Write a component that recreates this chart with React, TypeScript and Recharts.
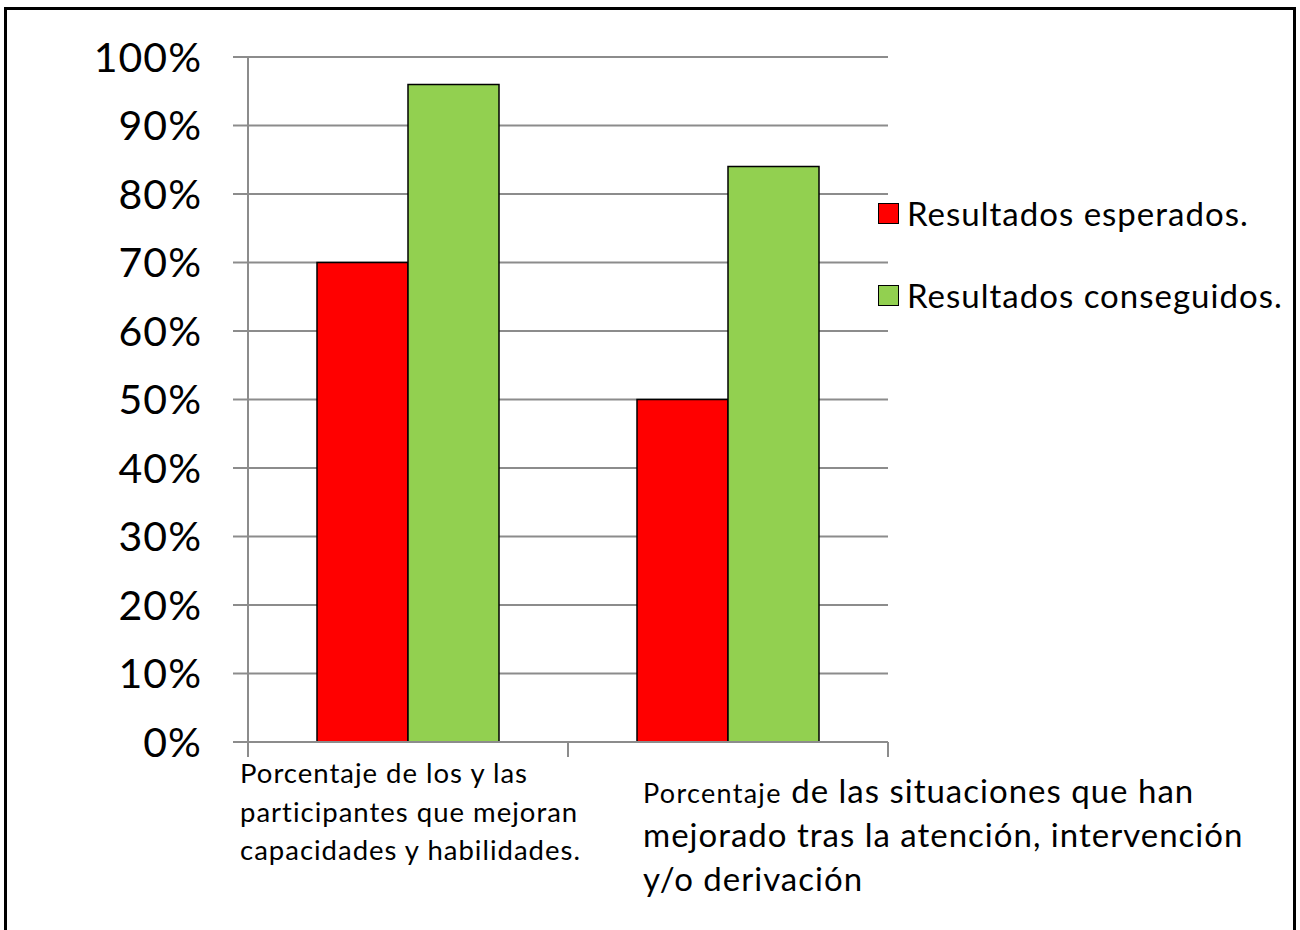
import React from "react";
import {
  BarChart,
  Bar,
  XAxis,
  YAxis,
  CartesianGrid,
  Legend,
} from "recharts";

// categories (full names) and the wrapped tick label lines
const categories = [
  "Porcentaje de los y las participantes que mejoran capacidades y habilidades.",
  "Porcentaje de las situaciones que han mejorado tras la atención, intervención y/o derivación",
];
const tickLines = [
  ["Porcentaje de los y las", "participantes que mejoran", "capacidades y habilidades."],
  ["Porcentaje de las situaciones que han", "mejorado tras la atención, intervención", "y/o derivación"],
];

// series values (fractions)
const esperados = [0.7, 0.5];
const conseguidos = [0.96, 0.84];

const seriesNames = ["Resultados esperados.", "Resultados conseguidos."];
const yTicks = [0, 0.1, 0.2, 0.3, 0.4, 0.5, 0.6, 0.7, 0.8, 0.9, 1];

const data = categories.map((name, i) => ({
  name,
  esperados: esperados[i],
  conseguidos: conseguidos[i],
}));

const FONT = "Lato, 'Open Sans', sans-serif";
const GRID = "#8c8c8c";

// per-category label styling (left offset from band centre, font size, line gap)
const labelStyle = [
  { dx: -168, firstBaseline: 41, size: 27.5, ls: 1, lineGap: 38.5, leadSize: 27.5, leadLs: 1 },
  { dx: -85, firstBaseline: 61, size: 33, ls: 1, lineGap: 44, leadSize: 27, leadLs: 1.3 },
];

function CategoryTick(props: any) {
  const { x, y, payload, index } = props;
  const half = payload.offset ?? 160;
  const lines = tickLines[index] || [];
  const st = labelStyle[index];
  const [lead, ...rest] = lines[0].split(" ");
  return (
    <g>
      <line x1={x - half} x2={x - half} y1={y} y2={y + 15} stroke={GRID} strokeWidth={2} />
      {index === categories.length - 1 && (
        <line x1={x + half} x2={x + half} y1={y} y2={y + 15} stroke={GRID} strokeWidth={2} />
      )}
      <text
        x={x + st.dx}
        y={y + st.firstBaseline}
        fill="#000"
        fontFamily={FONT}
        fontSize={st.size}
        letterSpacing={st.ls}
      >
        <tspan fontSize={st.leadSize} letterSpacing={st.leadLs}>{lead}</tspan>
        <tspan> {rest.join(" ")}</tspan>
        {lines.slice(1).map((l, i) => (
          <tspan key={i} x={x + st.dx} dy={st.lineGap}>
            {l}
          </tspan>
        ))}
      </text>
    </g>
  );
}

function LegendBox(props: any) {
  const items = [...(props.payload || [])].sort(
    (a: any, b: any) => seriesNames.indexOf(a.value) - seriesNames.indexOf(b.value)
  );
  return (
    <div style={{ fontFamily: FONT, fontSize: 33, letterSpacing: 1, color: "#000" }}>
      {items.map((it: any, i: number) => (
        <div
          key={i}
          style={{ display: "flex", alignItems: "center", height: 40, marginBottom: i === 0 ? 42 : 0 }}
        >
          <span
            style={{
              display: "inline-block",
              width: 19,
              height: 19,
              background: it.color,
              border: "1.5px solid #000",
              marginRight: 8,
            }}
          />
          <span style={{ whiteSpace: "nowrap" }}>{it.value}</span>
        </div>
      ))}
    </div>
  );
}

export default function App() {
  return (
    <div
      style={{
        position: "absolute",
        left: 0,
        top: 0,
        width: 1300,
        height: 930,
        overflow: "hidden",
        background: "#fff",
      }}
    >
      <div
        style={{
          position: "absolute",
          left: 4,
          top: 7,
          width: 1292,
          height: 960,
          border: "3px solid #000",
          boxSizing: "border-box",
        }}
      />
      <div style={{ position: "absolute", left: 0, top: 0 }}>
        <BarChart
          width={1300}
          height={930}
          data={data}
          margin={{ top: 57, right: 412, left: 0, bottom: 0 }}
          barCategoryGap={69}
          barGap={0}
        >
          <CartesianGrid vertical={false} stroke={GRID} strokeWidth={2} />
          <XAxis
            dataKey="name"
            height={188}
            interval={0}
            tickLine={false}
            tickSize={0}
            tickMargin={0}
            axisLine={{ stroke: GRID, strokeWidth: 2 }}
            tick={<CategoryTick />}
          />
          <YAxis
            width={248}
            domain={[0, 1]}
            ticks={yTicks}
            interval={0}
            tickFormatter={(v: number) => `${Math.round(v * 100)}%`}
            tickSize={15}
            tickMargin={31}
            tickLine={{ stroke: GRID, strokeWidth: 2 }}
            axisLine={{ stroke: GRID, strokeWidth: 2 }}
            tick={{ fill: "#000", fontSize: 41, fontFamily: FONT, letterSpacing: 1 }}
          />
          <Legend
            layout="vertical"
            align="center"
            verticalAlign="middle"
            wrapperStyle={{ left: 878, top: 193, width: 420, height: 130 }}
            content={<LegendBox />}
          />
          <Bar
            dataKey="esperados"
            name={seriesNames[0]}
            fill="#ff0000"
            stroke="#000"
            strokeWidth={1.5}
            isAnimationActive={false}
          />
          <Bar
            dataKey="conseguidos"
            name={seriesNames[1]}
            fill="#92d050"
            stroke="#000"
            strokeWidth={1.5}
            isAnimationActive={false}
          />
        </BarChart>
      </div>
    </div>
  );
}
